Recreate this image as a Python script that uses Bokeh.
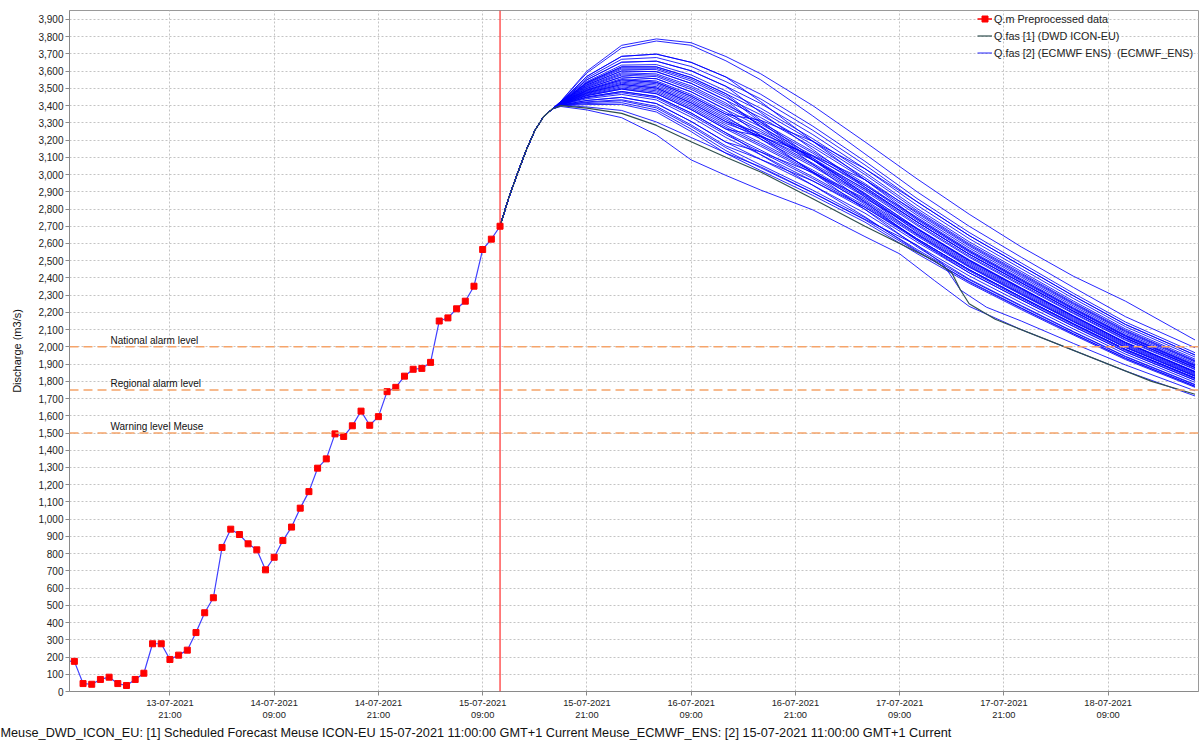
import pandas as pd
from bokeh.plotting import figure
from bokeh.models import (Range1d, FixedTicker, DatetimeTickFormatter, NumeralTickFormatter,
                          SingleIntervalTicker, Span, Label, Legend, LegendItem, Title)
from bokeh.embed import file_html
from bokeh.resources import INLINE

# ---------------- data ----------------
FORECAST_T0 = pd.Timestamp("2021-07-15 11:00")
OBS_START = pd.Timestamp("2021-07-13 09:00")

obs_values = [178, 175, 46, 42, 70, 83, 46, 35, 70, 106, 277,
              277, 186, 211, 240, 342, 457, 544, 836, 942, 911,
              857, 822, 706, 779, 876, 954, 1064, 1160, 1296, 1350,
              1495, 1480, 1542, 1627, 1545, 1595, 1740, 1765, 1830, 1870,
              1875, 1910, 2150, 2168, 2221, 2265, 2352, 2565, 2625, 2700]

# common start of all forecasts (hours after forecast time)
trunk_hours = [0, 1, 2, 3, 4, 5, 6]
trunk_values = [2700, 2865, 3005, 3140, 3255, 3335, 3380]

ecmwf_hours = [7, 10, 14, 18, 22, 26, 30, 36, 42, 48, 54, 60, 66, 72, 80]
ecmwf_members = [
    [3425, 3600, 3750, 3787, 3765, 3685, 3585, 3400, 3190, 2975, 2770, 2580, 2410, 2265, 2040],
    [3425, 3590, 3735, 3775, 3750, 3660, 3550, 3340, 3120, 2900, 2700, 2520, 2345, 2175, 1995],
    [3422, 3570, 3686, 3699, 3651, 3566, 3466, 3281, 3077, 2861, 2664, 2487, 2311, 2144, 1966],
    [3421, 3560, 3669, 3679, 3627, 3539, 3439, 3257, 3056, 2842, 2646, 2471, 2296, 2130, 1953],
    [3420, 3550, 3652, 3658, 3602, 3512, 3412, 3232, 3034, 2822, 2628, 2454, 2281, 2117, 1941],
    [3418, 3540, 3635, 3638, 3578, 3485, 3385, 3208, 3013, 2803, 2610, 2438, 2266, 2104, 1929],
    [3417, 3534, 3625, 3625, 3563, 3469, 3369, 3193, 3000, 2791, 2599, 2428, 2257, 2096, 1921],
    [3416, 3526, 3611, 3609, 3543, 3447, 3347, 3173, 2982, 2775, 2585, 2414, 2246, 2085, 1912],
    [3416, 3520, 3601, 3597, 3529, 3431, 3331, 3159, 2970, 2764, 2574, 2405, 2237, 2077, 1904],
    [3414, 3510, 3584, 3576, 3504, 3404, 3304, 3134, 2948, 2744, 2556, 2388, 2222, 2064, 1892],
    [3414, 3506, 3577, 3568, 3494, 3393, 3293, 3124, 2939, 2736, 2549, 2381, 2216, 2059, 1887],
    [3413, 3500, 3567, 3556, 3480, 3377, 3277, 3110, 2927, 2725, 2538, 2372, 2207, 2051, 1880],
    [3412, 3494, 3557, 3543, 3465, 3361, 3261, 3095, 2914, 2713, 2527, 2362, 2198, 2043, 1872],
    [3412, 3490, 3550, 3535, 3455, 3350, 3250, 3085, 2905, 2705, 2520, 2355, 2193, 2038, 1868],
    [3410, 3482, 3536, 3519, 3435, 3328, 3228, 3065, 2888, 2689, 2506, 2342, 2181, 2027, 1858],
    [3410, 3478, 3530, 3510, 3426, 3318, 3218, 3056, 2879, 2682, 2498, 2335, 2175, 2022, 1853],
    [3409, 3474, 3523, 3502, 3416, 3307, 3207, 3046, 2871, 2674, 2491, 2329, 2169, 2016, 1848],
    [3408, 3466, 3509, 3486, 3396, 3285, 3185, 3026, 2853, 2658, 2477, 2315, 2157, 2006, 1838],
    [3408, 3462, 3502, 3478, 3386, 3274, 3174, 3016, 2845, 2650, 2470, 2309, 2151, 2000, 1833],
    [3407, 3458, 3496, 3469, 3377, 3264, 3164, 3007, 2836, 2643, 2462, 2302, 2145, 1995, 1828],
    [3406, 3450, 3482, 3453, 3357, 3242, 3142, 2987, 2819, 2627, 2448, 2289, 2134, 1985, 1819],
    [3406, 3446, 3475, 3445, 3347, 3231, 3131, 2977, 2810, 2619, 2441, 2282, 2128, 1979, 1814],
    [3405, 3440, 3465, 3433, 3333, 3215, 3115, 2963, 2798, 2608, 2430, 2273, 2119, 1971, 1806],
    [3403, 3430, 3448, 3412, 3308, 3188, 3088, 2938, 2776, 2588, 2412, 2256, 2104, 1958, 1794],
    [3402, 3418, 3428, 3387, 3279, 3156, 3056, 2909, 2750, 2565, 2390, 2236, 2086, 1942, 1779],
    [3401, 3412, 3417, 3375, 3264, 3139, 3039, 2894, 2737, 2553, 2380, 2226, 2077, 1934, 1772],
    [3400, 3406, 3407, 3363, 3249, 3123, 3023, 2879, 2724, 2541, 2369, 2216, 2069, 1926, 1765],
    [3420, 3550, 3652, 3658, 3602, 3512, 3360, 3145, 2927, 2725, 2538, 2372, 2207, 2051, 1880],
    [3407, 3458, 3496, 3469, 3377, 3264, 3222, 3110, 2970, 2783, 2592, 2421, 2252, 2091, 1917],
    [3416, 3520, 3601, 3597, 3529, 3431, 3277, 3060, 2840, 2619, 2430, 2273, 2119, 1971, 1806],
    [3412, 3490, 3550, 3535, 3455, 3350, 3315, 3193, 3034, 2842, 2646, 2471, 2296, 2130, 1953],
    [3403, 3430, 3448, 3412, 3308, 3188, 3131, 3012, 2862, 2686, 2502, 2339, 2178, 2024, 1855],
    [3422, 3570, 3686, 3699, 3651, 3566, 3423, 3193, 2970, 2744, 2556, 2388, 2222, 2064, 1892],
    [3413, 3500, 3567, 3556, 3480, 3377, 3223, 3012, 2798, 2580, 2394, 2240, 2089, 1945, 1782],
    [3409, 3474, 3523, 3502, 3416, 3307, 3239, 3105, 2939, 2752, 2563, 2395, 2228, 2069, 1897],
    [3417, 3534, 3625, 3625, 3563, 3469, 3315, 3095, 2884, 2666, 2484, 2322, 2163, 2011, 1843],
    [3406, 3450, 3482, 3453, 3357, 3242, 3115, 2938, 2755, 2557, 2376, 2223, 2075, 1932, 1770],
    [3415, 3514, 3591, 3584, 3514, 3415, 3282, 3085, 2892, 2686, 2502, 2339, 2178, 2024, 1855],
    [3411, 3486, 3543, 3527, 3445, 3339, 3207, 3016, 2828, 2627, 2448, 2289, 2134, 1985, 1819],
    [3409, 3470, 3516, 3494, 3406, 3296, 3223, 3085, 2918, 2725, 2538, 2372, 2207, 2051, 1880],
    [3417, 3530, 3618, 3617, 3553, 3458, 3304, 3085, 2871, 2654, 2466, 2306, 2148, 1998, 1831],
    [3402, 3422, 3434, 3396, 3288, 3166, 3088, 2963, 2810, 2627, 2448, 2289, 2134, 1985, 1819],
]

# the two lowest ECMWF members (own time steps)
ecmwf_low1_hours = [7, 10, 14, 18, 22, 26, 30, 36, 42, 46, 50, 54, 60, 66, 72, 80]
ecmwf_low1_values = [3395, 3375, 3330, 3230, 3085, 2995, 2910, 2795, 2640, 2540, 2385, 2235, 2100, 1980, 1860, 1715]
ecmwf_low2_hours = [7, 10, 14, 18, 22, 26, 30, 36, 42, 48, 51, 53, 56, 60, 66, 72, 80]
ecmwf_low2_values = [3402, 3392, 3372, 3305, 3215, 3125, 3045, 2895, 2740, 2590, 2480, 2330, 2230, 2150, 2020, 1895, 1745]

icon_hours = [0, 1, 2, 3, 4, 5, 6, 7, 10, 14, 18, 22, 26, 30, 36, 42, 46, 50, 52, 53, 54, 57, 61, 65, 70, 75, 80]
icon_values = [2700, 2865, 3005, 3140, 3255, 3335, 3380, 3400, 3385, 3355, 3285, 3190, 3100, 3015, 2860, 2700,
               2600, 2500, 2430, 2330, 2250, 2160, 2080, 2000, 1900, 1800, 1725]

tick_times = pd.date_range("2021-07-13 21:00", periods=10, freq="12h")
alarm_levels = [2000, 1750, 1500]
alarm_names = ["National alarm level", "Regional alarm level", "Warning level Meuse"]

caption_text = ("Meuse_DWD_ICON_EU: [1] Scheduled Forecast Meuse ICON-EU 15-07-2021 11:00:00 GMT+1 Current "
                "Meuse_ECMWF_ENS: [2] 15-07-2021 11:00:00 GMT+1 Current")

# ---------------- helpers ----------------
HOUR_MS = 3600 * 1000.0


def ms(ts):
    return pd.Timestamp(ts).value / 1e6


t0 = ms(FORECAST_T0)


def hours_to_ms(hours):
    return [t0 + h * HOUR_MS for h in hours]


obs_x = [ms(OBS_START) + i * HOUR_MS for i in range(len(obs_values))]

ens_xs = [hours_to_ms(trunk_hours + ecmwf_hours) for _ in ecmwf_members]
ens_ys = [trunk_values + m for m in ecmwf_members]
ens_xs.append(hours_to_ms(trunk_hours + ecmwf_low1_hours))
ens_ys.append(trunk_values + ecmwf_low1_values)
ens_xs.append(hours_to_ms(trunk_hours + ecmwf_low2_hours))
ens_ys.append(trunk_values + ecmwf_low2_values)

FONT = "Liberation Sans"

p = figure(frame_width=1129, frame_height=681,
           x_range=Range1d(t0 - 49.56 * HOUR_MS, t0 + 80.4 * HOUR_MS),
           y_range=Range1d(0, 3952),
           x_axis_type="datetime", output_backend="svg", toolbar_location=None,
           min_border_left=69, min_border_right=5, min_border_top=10, min_border_bottom=0,
           background_fill_color="white", border_fill_color="white")
p.outline_line_color = "#9a9a9a"

# axes
p.yaxis.ticker = SingleIntervalTicker(interval=100)
p.yaxis.formatter = NumeralTickFormatter(format="0,0")
p.yaxis.axis_label = "Discharge (m3/s)"
p.yaxis.axis_label_text_font = FONT
p.yaxis.axis_label_text_font_size = "11px"
p.yaxis.axis_label_text_font_style = "normal"
p.yaxis.axis_label_text_color = "#111111"
p.yaxis.axis_label_standoff = 12
p.xaxis.ticker = FixedTicker(ticks=[ms(t) for t in tick_times])
fmt = "%d-%m-%Y\n%H:%M"
p.xaxis.formatter = DatetimeTickFormatter(hours=fmt, hourmin=fmt, days=fmt, months=fmt, years=fmt,
                                          minutes=fmt, minsec=fmt, seconds=fmt)
for ax in (p.xaxis, p.yaxis):
    ax.major_label_text_font = FONT
    ax.major_label_text_color = "#222222"
    ax.axis_line_color = "#8a8a8a"
    ax.major_tick_line_color = "#8a8a8a"
    ax.major_tick_out = 4
    ax.major_tick_in = 0
    ax.minor_tick_line_color = None
    ax.major_label_standoff = 2
p.yaxis.major_label_text_font_size = "10px"
p.xaxis.major_label_text_font_size = "9.3px"

for g in (p.xgrid, p.ygrid):
    g.grid_line_color = "#c4c4c4"
    g.grid_line_dash = "2 2"
    g.grid_line_width = 1

# alarm levels
for lvl, name in zip(alarm_levels, alarm_names):
    p.add_layout(Span(location=lvl, dimension="width", line_color="#f5a46a",
                      line_dash="9 5", line_width=1.5))
    p.add_layout(Label(x=t0 - 44.85 * HOUR_MS, y=lvl, text=name, text_font=FONT,
                       text_font_size="10px", text_color="#111111",
                       text_baseline="bottom", y_offset=1))

# forecast time
p.add_layout(Span(location=t0, dimension="height", line_color="#ff0000", line_width=1))

ens_r = p.multi_line(xs=ens_xs, ys=ens_ys, line_color="#0000ff", line_alpha=0.85, line_width=1)
icon_r = p.line(hours_to_ms(icon_hours), icon_values, line_color="#2f4f4f", line_width=1.2)
p.line(obs_x, obs_values, line_color="#4040ff", line_width=1.2)
obs_pts = p.scatter(obs_x, obs_values, marker="square", size=6, fill_color="#ff0000",
                    line_color="#ff0000")
# legend swatch only (a one-point line draws nothing in the plot)
legend_red = p.line(obs_x[:1], obs_values[:1], line_color="#ff0000", line_width=1.5)

legend = Legend(items=[
    LegendItem(label="Q.m Preprocessed data", renderers=[legend_red, obs_pts]),
    LegendItem(label="Q.fas [1] (DWD ICON-EU)", renderers=[icon_r]),
    LegendItem(label="Q.fas [2] (ECMWF ENS)  (ECMWF_ENS)", renderers=[ens_r]),
], location=(908, 630))
legend.label_text_font = FONT
legend.label_text_font_size = "10.8px"
legend.label_text_color = "#222222"
legend.label_height = 17
legend.glyph_height = 17
legend.glyph_width = 15
legend.label_standoff = 2
legend.spacing = 0
legend.padding = 0
legend.margin = 0
legend.background_fill_alpha = 0
legend.border_line_alpha = 0
p.add_layout(legend)

caption = Title(text=caption_text, align="left", text_font=FONT, text_font_size="12.7px",
                text_font_style="normal", text_color="#111111", standoff=2, offset=-69)
p.add_layout(caption, "below")

open("out.html", "w").write(file_html(p, INLINE))
